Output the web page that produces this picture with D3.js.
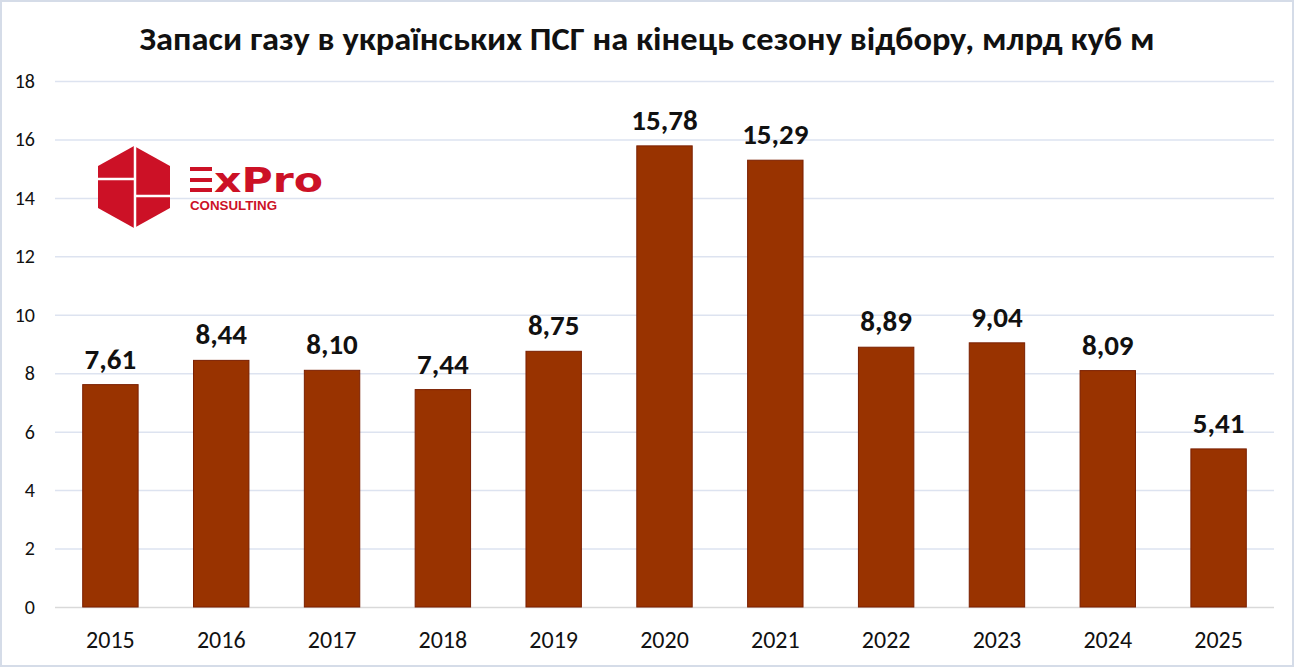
<!DOCTYPE html>
<html>
<head>
<meta charset="utf-8">
<script src="https://cdn.jsdelivr.net/npm/d3@7"></script>
<style>
  body { margin: 0; background: #fff; }
  svg { display: block; }
</style>
</head>
<body>
<div id="chart"></div>
<script>
const years = ['2015', '2016', '2017', '2018', '2019', '2020', '2021', '2022', '2023', '2024', '2025']
const stocks = [7.61, 8.44, 8.10, 7.44, 8.75, 15.78, 15.29, 8.89, 9.04, 8.09, 5.41]
const yTicks = [0, 2, 4, 6, 8, 10, 12, 14, 16, 18]
const title = 'Запаси газу в українських ПСГ на кінець сезону відбору, млрд куб м'

const width = 1294
const height = 667
const margin = { top: 81, right: 20, bottom: 60, left: 55 }
const font = 'Calibri, Carlito, Lato, "Open Sans", sans-serif'

const svg = d3.select('#chart').append('svg')
  .attr('width', width)
  .attr('height', height)

// outer frame
svg.append('rect')
  .attr('x', 1).attr('y', 1)
  .attr('width', width - 2).attr('height', height - 2)
  .attr('fill', '#fff')
  .attr('stroke', '#d5dce8')
  .attr('stroke-width', 2)

const x = d3.scaleBand()
  .domain(years)
  .range([margin.left, 1274])
  .paddingInner(0.5)
  .paddingOuter(0.25)

const y = d3.scaleLinear()
  .domain([0, 18])
  .range([607, margin.top])

// grid
svg.append('g')
  .selectAll('line')
  .data(yTicks)
  .join('line')
  .attr('x1', margin.left)
  .attr('x2', 1274)
  .attr('y1', d => y(d) + 0.5)
  .attr('y2', d => y(d) + 0.5)
  .attr('stroke', d => d === 0 ? '#d9d9d9' : '#dde3f0')
  .attr('stroke-width', 1.5)

// y axis labels
const yAxis = d3.axisLeft(y).tickValues(yTicks).tickSize(0).tickPadding(19)
svg.append('g')
  .attr('transform', `translate(${margin.left - 1},0)`)
  .call(yAxis)
  .call(g => g.select('.domain').remove())
  .call(g => g.selectAll('text')
    .attr('font-family', font)
    .attr('font-size', 20)
    .attr('fill', '#111'))

// x axis labels
const xAxis = d3.axisBottom(x).tickSize(0)
svg.append('g')
  .attr('transform', `translate(0,${y(0)})`)
  .call(xAxis)
  .call(g => g.select('.domain').remove())
  .call(g => g.selectAll('text')
    .attr('y', 41)
    .attr('dy', null)
    .attr('font-family', font)
    .attr('font-size', 24)
    .attr('fill', '#111'))

// bars
svg.append('g')
  .selectAll('rect')
  .data(stocks)
  .join('rect')
  .attr('x', (d, i) => x(years[i]))
  .attr('y', d => y(d))
  .attr('width', x.bandwidth())
  .attr('height', d => y(0) - y(d))
  .attr('fill', '#993300')
  .attr('stroke', '#7a1f00')
  .attr('stroke-width', 1)

// value labels
svg.append('g')
  .selectAll('text')
  .data(stocks)
  .join('text')
  .attr('x', (d, i) => x(years[i]) + x.bandwidth() / 2)
  .attr('y', d => y(d) - 16)
  .attr('text-anchor', 'middle')
  .attr('font-family', font)
  .attr('font-weight', 'bold')
  .attr('font-size', 29)
  .attr('fill', '#111')
  .text(d => d3.format('.2f')(d).replace('.', ','))

// title
svg.append('text')
  .attr('x', 647)
  .attr('y', 50)
  .attr('text-anchor', 'middle')
  .attr('font-family', font)
  .attr('font-weight', 'bold')
  .attr('font-size', 32)
  .attr('fill', '#111')
  .attr('textLength', 1015)
  .attr('lengthAdjust', 'spacingAndGlyphs')
  .text(title)

// logo
const red = '#cc1126'
const logo = svg.append('g').attr('transform', 'translate(134,187)')
const hex = [[0, -41], [36, -21], [36, 21], [0, 41], [-36, 21], [-36, -21]]
logo.append('path')
  .attr('d', d3.line()(hex) + 'Z')
  .attr('fill', red)
// white seams inside the hexagon
logo.append('g')
  .attr('stroke', '#fff')
  .attr('stroke-width', 2.5)
  .selectAll('line')
  .data([[1, -42, 1, 42], [-37, -8, 1, -8], [1, 9, 37, 9]])
  .join('line')
  .attr('x1', d => d[0]).attr('y1', d => d[1])
  .attr('x2', d => d[2]).attr('y2', d => d[3])

const brand = svg.append('g').attr('transform', 'translate(190,192)')
// stylised E made of three bars
brand.append('g')
  .selectAll('rect')
  .data([-25, -14, -4])
  .join('rect')
  .attr('x', 0).attr('y', d => d)
  .attr('width', 22).attr('height', 4)
  .attr('fill', red)
brand.append('text')
  .attr('x', 24)
  .attr('y', 0)
  .attr('font-family', '"DejaVu Sans", sans-serif')
  .attr('font-weight', 'bold')
  .attr('font-size', 33)
  .attr('fill', red)
  .attr('textLength', 109)
  .attr('lengthAdjust', 'spacingAndGlyphs')
  .text('xPro')
brand.append('text')
  .attr('x', 0)
  .attr('y', 18)
  .attr('font-family', '"Liberation Sans", sans-serif')
  .attr('font-weight', 'bold')
  .attr('font-size', 12)
  .attr('fill', red)
  .attr('textLength', 87)
  .attr('lengthAdjust', 'spacingAndGlyphs')
  .text('CONSULTING')
</script>
</body>
</html>
